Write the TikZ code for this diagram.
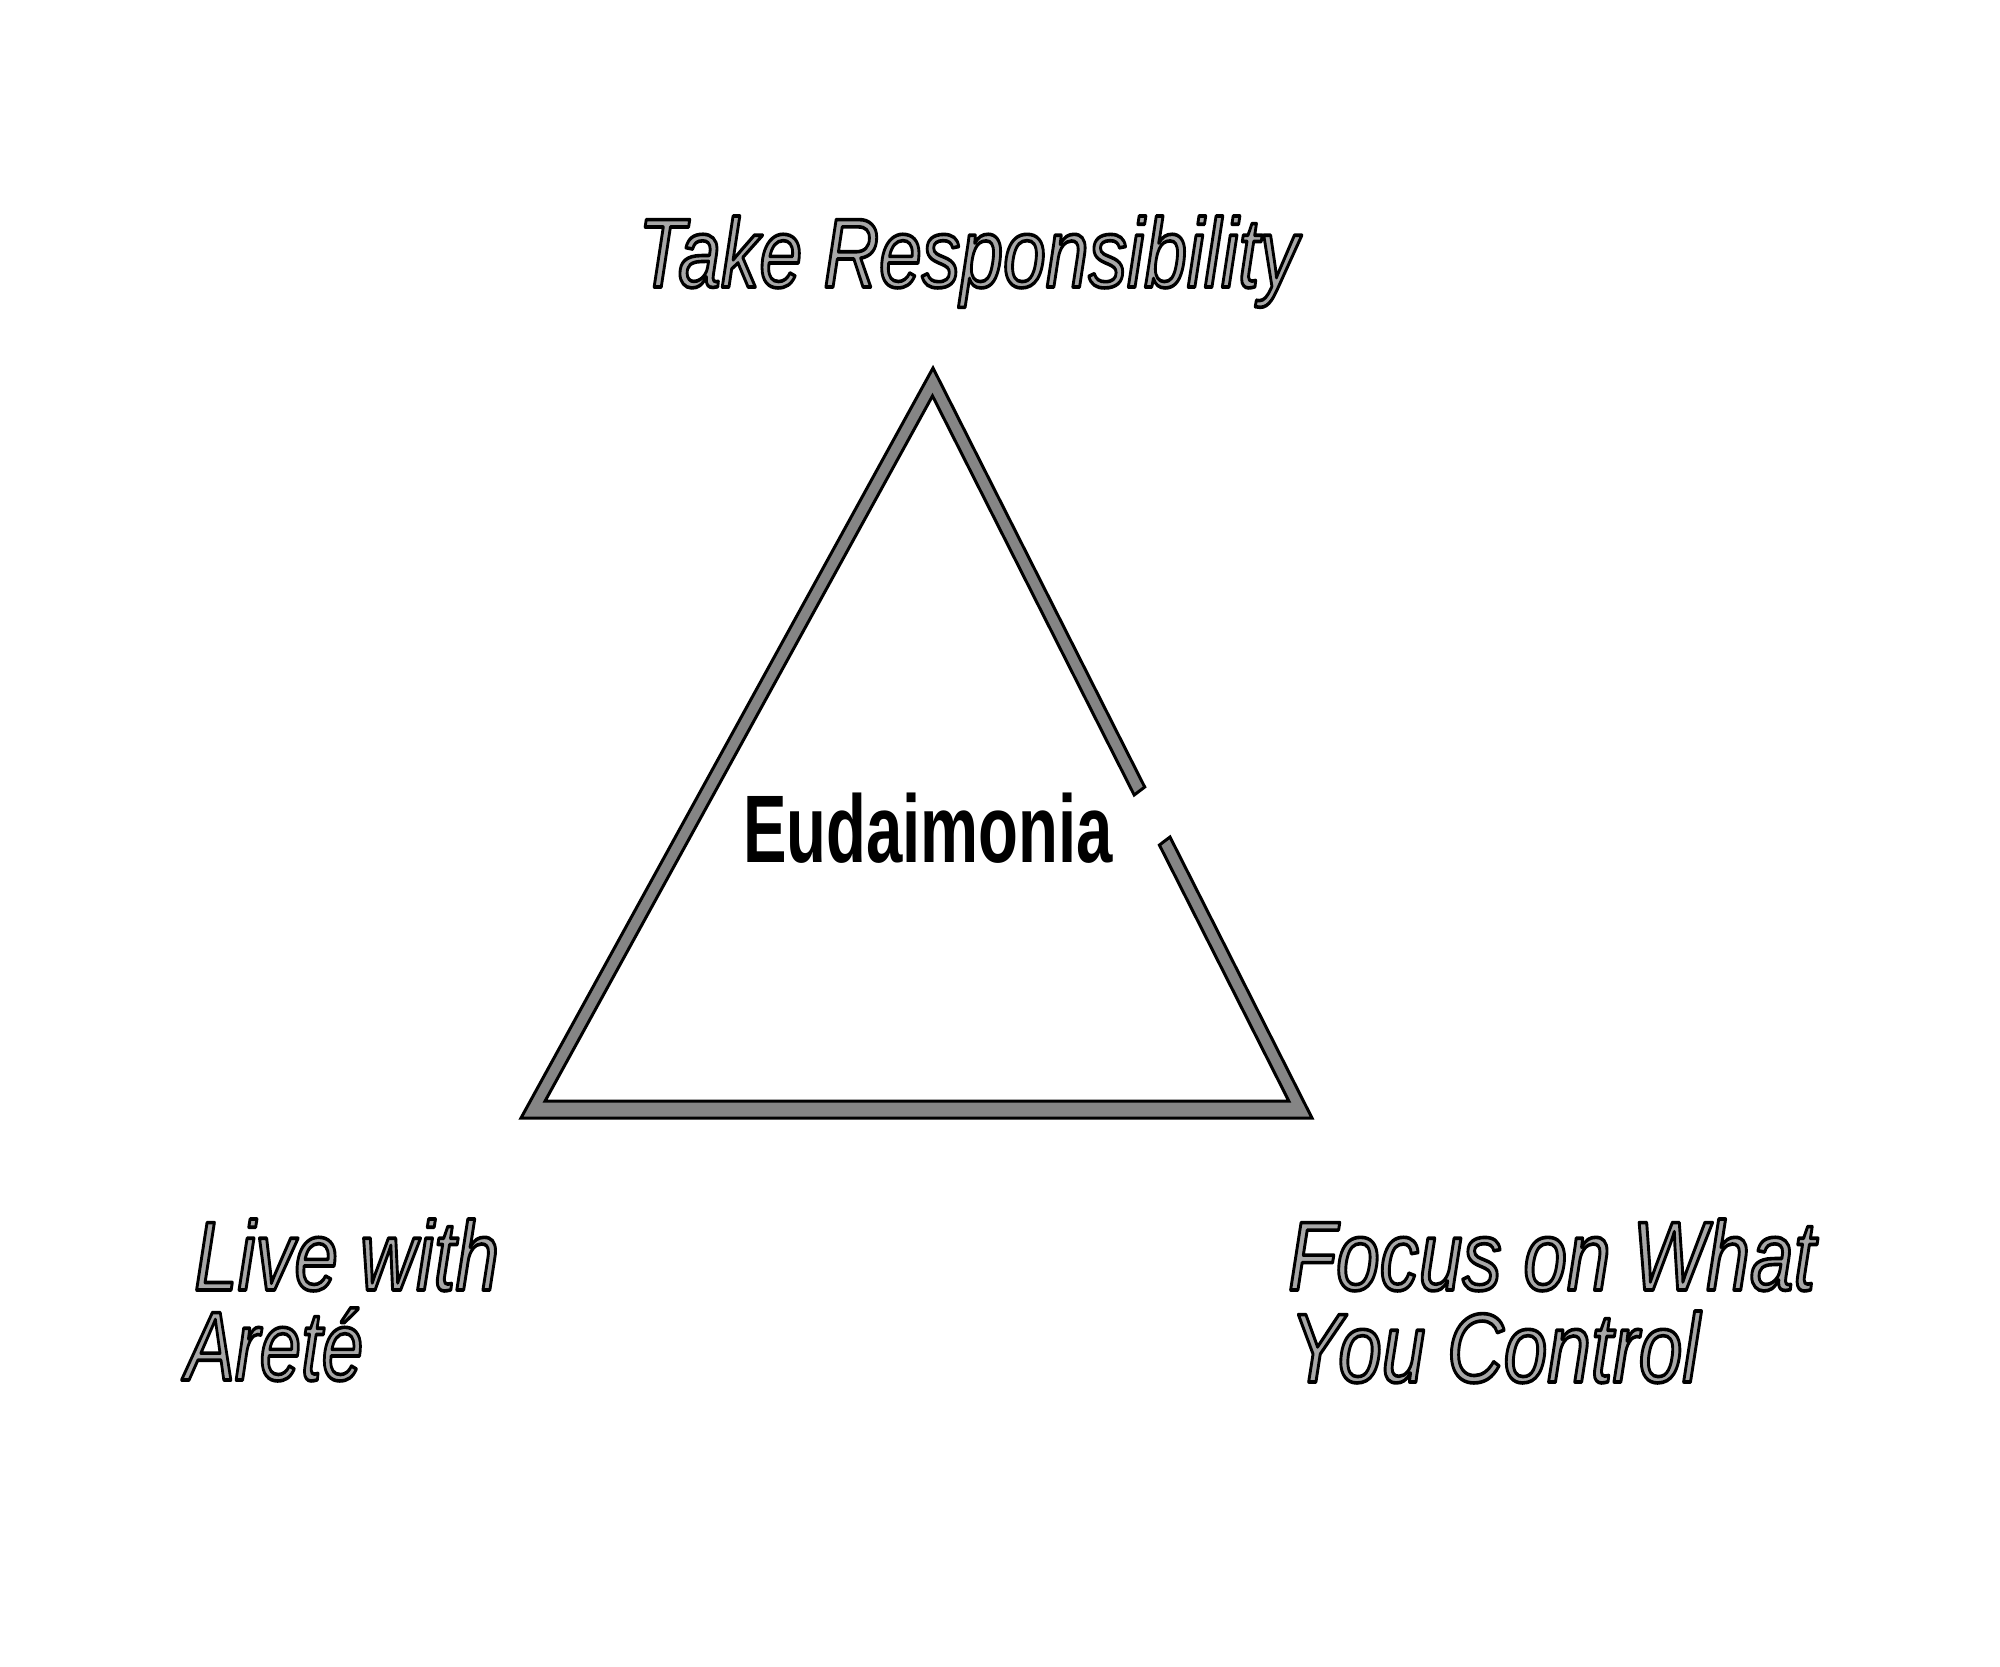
\documentclass[tikz,border=0pt]{standalone}
\usepackage{fontspec}
\setmainfont{Liberation Sans}
\definecolor{letterfill}{gray}{0.66}
\definecolor{bandfill}{gray}{0.52}
\newcommand{\outl}[1]{{\color{letterfill}\special{pdf:literal direct 0 G 3.6 w 1 j 2 Tr}#1\special{pdf:literal direct 0 Tr}}}
\newcommand{\lab}[1]{\scalebox{0.8}[1]{\outl{#1}}}
\begin{document}
\begin{tikzpicture}[x=1pt,y=-1pt,
  lbl/.style={font=\fontsize{98}{90}\selectfont\itshape, inner sep=0pt, anchor=base west, align=left},
  band/.style={fill=bandfill, draw=black, line width=3pt, line join=miter, even odd rule}]
\fill[white] (0,0) rectangle (2000,1666);
\useasboundingbox (0,0) rectangle (2000,1666);
% triangle band with gap on right side
\filldraw[band]
  (1170,837) -- (1312,1118) -- (521,1118) -- (933,368) -- (1144.7,787)
  -- (1134.2,795) -- (932.5,395.9) -- (545.1,1101) -- (1288.8,1101) -- (1159.4,845) -- cycle;
\node[lbl] (top) at (638,287) {\scalebox{0.785}[1]{\outl{Take Responsibility}}};
\node[lbl] (left1) at (194,1290) {\lab{Live with}};
\node[lbl] (left2) at (185,1380) {\scalebox{0.76}[1]{\outl{Aret\'e}}};
\node[lbl] (right1) at (1288,1290) {\lab{Focus on What}};
\node[lbl] (right2) at (1290,1382) {\lab{You Control}};
\node[inner sep=0pt, anchor=base west, font=\fontsize{96}{100}\selectfont\bfseries] (center) at (743,862) {\scalebox{0.68}[1]{Eudaimonia}};
\end{tikzpicture}
\end{document}
